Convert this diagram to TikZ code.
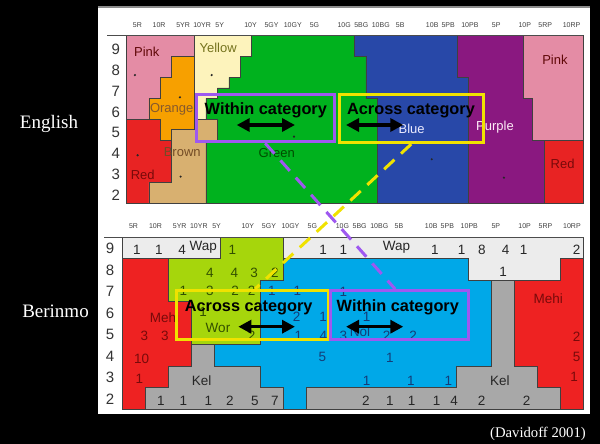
\documentclass[tikz,border=0pt]{standalone}
\usepackage{fontspec}
\setmainfont{Liberation Serif}
\setsansfont{Liberation Sans}
\usetikzlibrary{arrows.meta}

% English regions
\definecolor{ePink}{RGB}{228,140,165}
\definecolor{eOrange}{RGB}{247,160,0}
\definecolor{eYellow}{RGB}{253,243,188}
\definecolor{eRed}{RGB}{232,35,35}
\definecolor{eBrown}{RGB}{216,176,112}
\definecolor{eGreen}{RGB}{0,178,30}
\definecolor{eBlue}{RGB}{40,72,168}
\definecolor{ePurple}{RGB}{138,24,128}
% Berinmo regions
\definecolor{bWap}{RGB}{236,236,236}
\definecolor{bWor}{RGB}{166,214,12}
\definecolor{bNol}{RGB}{0,168,232}
\definecolor{bMehi}{RGB}{238,34,34}
\definecolor{bKel}{RGB}{168,168,168}
\definecolor{tWor}{RGB}{50,80,0}
\definecolor{tNol}{RGB}{20,60,120}
\definecolor{tMehi}{RGB}{120,10,10}
% marks
\definecolor{markPurple}{RGB}{158,88,240}
\definecolor{markYellow}{RGB}{240,226,0}

\newcommand{\hues}{5R/0.5,10R/1.45,5YR/2.5,10YR/3.33,5Y/4.1,10Y/5.45,5GY/6.37,10GY/7.3,5G/8.25,10G/9.55,5BG/10.3,10BG/11.15,5B/12,10B/13.4,5PB/14.1,10PB/15.05,5P/16.2,10P/17.45,5RP/18.35,10RP/19.5}

\begin{document}
\begin{tikzpicture}[x=1pt,y=-1pt,
    region/.style={draw=black!75,line width=0.6pt},
    lab/.style={font=\sffamily\fontsize{13}{13}\selectfont},
    num/.style={font=\sffamily\fontsize{13.5}{13.5}\selectfont,text=black!85},
    hue/.style={font=\sffamily\fontsize{7}{7}\selectfont,text=black!75},
    val/.style={font=\sffamily\fontsize{15}{15}\selectfont,text=black!80},
    side/.style={font=\fontsize{19}{19}\selectfont,text=white},
    pick/.style={draw,line width=3pt,inner sep=0pt},
    task/.style={font=\sffamily\bfseries\fontsize{16.3}{16.3}\selectfont,anchor=base},
    move/.style={line width=3.5pt,{Triangle[length=13pt,width=13pt]}-{Triangle[length=13pt,width=13pt]}},
    link/.style={line width=3pt,dash pattern=on 14pt off 9pt}]
  \useasboundingbox (0,0) rectangle (600,444);
  \fill[black] (0,0) rectangle (600,444);
  \fill[white] (98,7) rectangle (590,414);
  \draw[black!45,line width=1.2pt] (98,7) -- (590,7);

  \node[side] (english) at (49,123.5) {English};
  \node[side] (berinmo) at (55.5,311) {Berinmo};
  \node[font=\fontsize{14.7}{14.7}\selectfont,text=white] (source) at (538,433.5) {(Davidoff 2001)};

  % English chart
  \begin{scope}[shift={(126,35.5)},x=22.85pt,y=-20.94pt]
    \filldraw[region,fill=ePink] (0,0) -- (3,0) -- (3,1) -- (2,1) -- (2,2) -- (1.5,2) -- (1.5,3) -- (1,3) -- (1,4) -- (0,4) -- cycle;
    \filldraw[region,fill=eYellow] (3,0) -- (5.5,0) -- (5.5,1) -- (5,1) -- (5,2) -- (4.5,2) -- (4.5,2.5) -- (4,2.5) -- (4,3) -- (3.5,3) -- (3.5,4) -- (3,4) -- cycle;
    \filldraw[region,fill=eOrange] (2,1) -- (3,1) -- (3,4.5) -- (2,4.5) -- (2,5) -- (1.5,5) -- (1.5,4) -- (1,4) -- (1,3) -- (1.5,3) -- (1.5,2) -- (2,2) -- cycle;
    \filldraw[region,fill=eRed] (0,4) -- (1.5,4) -- (1.5,5) -- (2,5) -- (2,7) -- (1,7) -- (1,8) -- (0,8) -- cycle;
    \filldraw[region,fill=eBrown] (2,4.5) -- (3,4.5) -- (3,4) -- (4,4) -- (4,5) -- (3.5,5) -- (3.5,8) -- (1,8) -- (1,7) -- (2,7) -- cycle;
    \filldraw[region,fill=eGreen] (5.5,0) -- (10,0) -- (10,1) -- (10.5,1) -- (10.5,3) -- (11,3) -- (11,8) -- (3.5,8) -- (3.5,5) -- (4,5) -- (4,4) -- (3.5,4) -- (3.5,3) -- (4,3) -- (4,2.5) -- (4.5,2.5) -- (4.5,2) -- (5,2) -- (5,1) -- (5.5,1) -- cycle;
    \filldraw[region,fill=eBlue] (10,0) -- (14.5,0) -- (14.5,2) -- (15,2) -- (15,8) -- (11,8) -- (11,3) -- (10.5,3) -- (10.5,1) -- (10,1) -- cycle;
    \filldraw[region,fill=ePurple] (14.5,0) -- (17.4,0) -- (17.4,3) -- (17.8,3) -- (17.8,5) -- (18.3,5) -- (18.3,8) -- (15,8) -- (15,2) -- (14.5,2) -- cycle;
    \filldraw[region,fill=ePink] (17.4,0) -- (20,0) -- (20,5) -- (17.8,5) -- (17.8,3) -- (17.4,3) -- cycle;
    \filldraw[region,fill=eRed] (18.3,5) -- (20,5) -- (20,8) -- (18.3,8) -- cycle;
    \draw[black!70,line width=0.8pt] (-0.83,0) -- (20,0);
    \foreach \h/\c in \hues
      \node[hue] at (\c,-0.48) {\h};
    \foreach \v [count=\i from 0] in {9,8,...,2}
      \node[val] at (-0.45,\i+0.65) {\v};
    % category names
    \node[lab,text=tMehi!80!black] at (0.91,0.77) {Pink};
    \node[lab,text=black!60!eYellow!40!olive] at (4.03,0.6) {Yellow};
    \node[lab,text=brown!70!black] at (2,3.52) {Orange};
    \node[lab,text=brown!60!black] at (2.46,5.55) {Brown};
    \node[lab,text=tMehi] at (0.73,6.66) {Red};
    \node[lab,text=green!30!black] at (6.6,5.6) {Green};
    \node[lab,text=blue!8!white] at (12.5,4.48) {Blue};
    \node[lab,text=magenta!8!white] at (16.15,4.4) {Purple};
    \node[lab,text=tMehi!80!black] at (18.77,1.14) {Pink};
    \node[lab,text=tMehi] at (19.11,6.15) {Red};
    \foreach \x/\y in {0.39/1.89,3.75/1.89,2.36/2.95,0.51/5.72,2.39/6.74,7.35/4.83,13.38/5.91,16.54/6.79}
      \fill[black!85] (\x,\y) circle (1.2pt);
  \end{scope}

  % Berinmo chart
  \begin{scope}[shift={(122,237)},x=23.075pt,y=-21.5pt]
    \filldraw[region,fill=bWap] (0,0) -- (4.25,0) -- (4.25,1) -- (0,1) -- cycle;
    \filldraw[region,fill=bWap] (7,0) -- (20,0) -- (20,1) -- (19,1) -- (19,2) -- (15,2) -- (15,1) -- (7,1) -- cycle;
    \filldraw[region,fill=bWor] (4.25,0) -- (7,0) -- (7,2) -- (6,2) -- (6,5) -- (3,5) -- (3,3) -- (2,3) -- (2,1) -- (4.25,1) -- cycle;
    \filldraw[region,fill=bNol] (7,1) -- (15,1) -- (15,2) -- (16,2) -- (16,6) -- (14.5,6) -- (14.5,7) -- (8,7) -- (8,8) -- (7,8) -- (7,7) -- (6,7) -- (6,6) -- (4,6) -- (4,5) -- (6,5) -- (6,2) -- (7,2) -- cycle;
    \filldraw[region,fill=bMehi] (0,1) -- (2,1) -- (2,3) -- (3,3) -- (3,6) -- (2,6) -- (2,7) -- (1,7) -- (1,8) -- (0,8) -- cycle;
    \filldraw[region,fill=bKel] (3,5) -- (4,5) -- (4,6) -- (6,6) -- (6,7) -- (7,7) -- (7,8) -- (1,8) -- (1,7) -- (2,7) -- (2,6) -- (3,6) -- cycle;
    \filldraw[region,fill=bKel] (16,2) -- (17,2) -- (17,6) -- (18,6) -- (18,7) -- (19,7) -- (19,8) -- (8,8) -- (8,7) -- (14.5,7) -- (14.5,6) -- (16,6) -- cycle;
    \filldraw[region,fill=bMehi] (19,1) -- (20,1) -- (20,8) -- (19,8) -- (19,7) -- (18,7) -- (18,6) -- (17,6) -- (17,2) -- (19,2) -- cycle;
    \draw[black!70,line width=0.8pt] (-0.78,0) -- (20,0);
    \foreach \h/\c in \hues
      \node[hue] at (\c,-0.5) {\h};
    \foreach \v [count=\i from 0] in {9,8,...,2}
      \node[val] at (-0.52,\i+0.55) {\v};
    % naming counts
    \foreach \x/\y/\n in {0.64/0.6/1,1.6/0.6/1,2.61/0.6/4,8.72/0.6/1,9.59/0.6/1,13.56/0.6/1,14.72/0.6/1,15.6/0.6/8,16.62/0.6/4,17.41/0.6/1,19.7/0.6/2,16.52/1.62/1,
        1.69/7.63/1,2.66/7.63/1,3.74/7.63/1,4.68/7.63/2,5.76/7.63/5,6.63/7.63/7,10.57/7.63/2,11.61/7.63/1,12.55/7.63/1,13.64/7.63/1,14.39/7.63/4,15.59/7.63/2,17.54/7.63/2}
      \node[num] at (\x,\y) {\n};
    \foreach \x/\y/\n in {4.78/0.6/1,3.81/1.65/4,4.87/1.65/4,5.73/1.65/3,6.63/1.65/2,2.66/2.51/1,3.81/2.51/3,4.9/2.51/2,5.62/2.51/2,3.52/3.5/1,5.62/4.6/2}
      \node[num,text=tWor] at (\x,\y) {\n};
    \foreach \x/\y/\n in {6.5/2.51/1,7.6/2.51/1,9.59/2.55/1,7.57/3.72/2,8.72/3.72/1,10.6/3.72/1,7.64/4.58/1,8.73/4.58/4,9.59/4.6/3,11.47/4.6/2,12.62/4.6/2,8.68/5.6/5,11.61/5.6/1,10.6/6.67/1,12.52/6.67/1,14.14/6.67/1}
      \node[num,text=tNol] at (\x,\y) {\n};
    \foreach \x/\y/\n in {0.97/4.58/3,1.86/4.58/3,0.85/5.65/10,0.75/6.6/1,19.7/4.64/2,19.7/5.57/5,19.59/6.5/1}
      \node[num,text=tMehi] at (\x,\y) {\n};
    \node[num] at (3.52,0.48) {Wap};
    \node[num] at (11.9,0.5) {Wap};
    \node[num,text=tWor] at (4.16,4.25) {Wor};
    \node[num,text=tNol] at (10.31,4.4) {Nol};
    \node[num,text=tMehi] at (1.84,3.77) {Mehi};
    \node[num,text=tMehi] at (18.47,2.85) {Mehi};
    \node[num] at (3.45,6.67) {Kel};
    \node[num] at (16.38,6.67) {Kel};
  \end{scope}

  % comparison boxes
  \node[pick,markPurple,minimum width=138.3pt,minimum height=47.7pt] (withinE) at (265.2,117.9) {};
  \node[pick,markYellow,minimum width=144pt,minimum height=48.5pt] (acrossE) at (411.3,118.3) {};
  \node[pick,markYellow,minimum width=151.6pt,minimum height=49pt] (acrossB) at (252.5,315) {};
  \node[pick,markPurple,minimum width=138.3pt,minimum height=49.3pt] (withinB) at (399.2,315.3) {};
  \draw[link,markPurple] (withinE.south) -- ([xshift=-4pt]withinB.north);
  \draw[link,markYellow] (acrossE.south) -- ([xshift=2.5pt]acrossB.north);

  \node[task] (withinEtext) at (265.8,114.3) {Within category};
  \node[task] (acrossEtext) at (411,114.3) {Across category};
  \node[task] (acrossBtext) at (248.7,311.7) {Across category};
  \node[task] (withinBtext) at (397.8,311.7) {Within category};
  \draw[move] (236.7,125) -- (295,125);
  \draw[move] (346,125) -- (403.3,125);
  \draw[move] (238.3,326.7) -- (295,326.7);
  \draw[move] (346,326.7) -- (403.3,326.7);
\end{tikzpicture}
\end{document}
